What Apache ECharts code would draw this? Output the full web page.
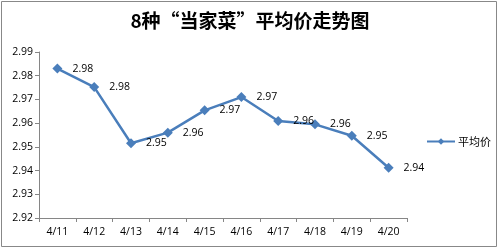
<!DOCTYPE html>
<html><head><meta charset="utf-8">
<script src="https://cdn.jsdelivr.net/npm/echarts@6/dist/echarts.min.js"></script>
<style>html,body{margin:0;padding:0;background:#fff}#c{width:500px;height:249px}</style>
</head><body><div id="c"></div>
<script>
const categories = ['4/11','4/12','4/13','4/14','4/15','4/16','4/17','4/18','4/19','4/20'];
const avgPrice = [2.983, 2.9752, 2.9515, 2.956, 2.9654, 2.971, 2.9609, 2.9595, 2.9547, 2.9412];
const seriesName = '平均价';
const titleText = '8种“当家菜”平均价走势图';

const chart = echarts.init(document.getElementById('c'), null, {renderer:'canvas'});
chart.setOption({
  animation:false,
  backgroundColor:'#fff',
  title:{text:titleText,left:'center',top:6,
    textStyle:{fontFamily:'"Noto Sans CJK SC"',fontSize:19,fontWeight:'bold',color:'#000'}},
  graphic:[{type:'rect',shape:{x:1.5,y:1.5,width:495,height:245},
    style:{fill:'none',stroke:'#888',lineWidth:1},silent:true}],
  legend:{left:421,top:131,orient:'vertical',itemWidth:28,itemHeight:8,itemGap:4,
    textStyle:{fontFamily:'"Noto Sans CJK SC"',fontSize:11,color:'#000',padding:[0,0,0,-2]},
    data:[seriesName]},
  grid:{left:39,right:93,top:52,bottom:31},
  xAxis:{type:'category',data:categories,boundaryGap:true,
    axisLine:{lineStyle:{color:'#868686'}},
    axisTick:{show:true,length:4,inside:false,alignWithLabel:false,lineStyle:{color:'#868686'}},
    axisLabel:{color:'#000',fontFamily:'"Open Sans"',fontSize:10.5,margin:9}},
  yAxis:{type:'value',min:2.92,max:2.99,interval:0.01,
    axisLine:{show:true,lineStyle:{color:'#868686'}},
    axisTick:{show:true,length:4,lineStyle:{color:'#868686'}},
    splitLine:{show:false},
    axisLabel:{color:'#000',fontFamily:'"Open Sans"',fontSize:10.5,margin:6,
      formatter:v=>v.toFixed(2)}},
  series:[{name:seriesName,type:'line',data:avgPrice,
    symbol:'diamond',symbolSize:10,
    lineStyle:{color:'#4a7ebb',width:2.5},
    itemStyle:{color:'#4a7ebb'},
    label:{show:true,position:'right',distance:10,color:'#000',
      fontFamily:'"Open Sans"',fontSize:10.5,formatter:p=>p.value.toFixed(2)}}]
});
</script></body></html>
